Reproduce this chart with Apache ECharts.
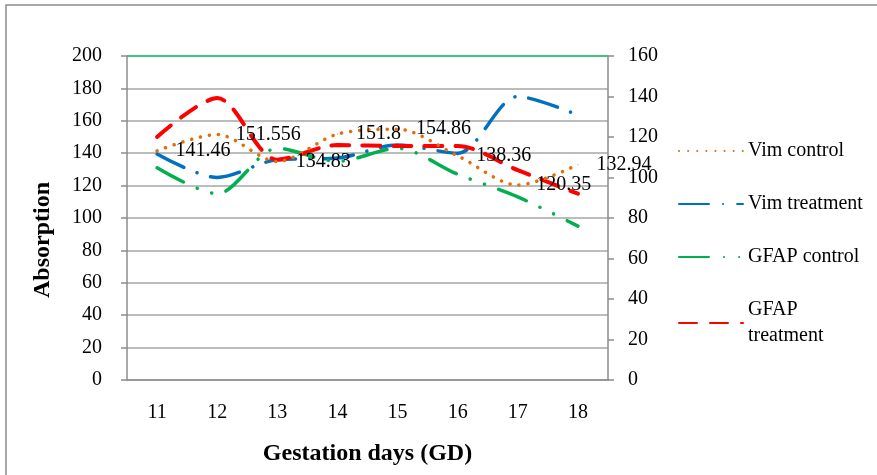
<!DOCTYPE html>
<html><head><meta charset="utf-8">
<script src="https://cdn.jsdelivr.net/npm/echarts@6/dist/echarts.min.js"></script>
<style>html,body{margin:0;padding:0;background:#fff}#c{width:877px;height:475px}</style>
</head><body><div id="c"></div>
<script>
const categories = ['11','12','13','14','15','16','17','18'];
const vimControl = [141.46, 151.556, 134.83, 151.8, 154.86, 138.36, 120.35, 132.94];
const vimTreatment = [139.5, 125, 136, 137, 145, 140, 175, 163.5];
const gfapControl = [131, 115, 143, 135, 143, 127, 113, 95];
const gfapTreatment = [150, 174, 136, 145, 144.5, 144.5, 129.5, 115];
const seriesNames = ['Vim control','Vim treatment','GFAP control','GFAP treatment'];

const serif = 'Liberation Serif, Times New Roman, serif';
const chart = echarts.init(document.getElementById('c'));
const gridColors = ['#a6a6a6','#a6a6a6','#a6a6a6','#a6a6a6','#a6a6a6','#a6a6a6','#a6a6a6','#a6a6a6','#a6a6a6','#a6a6a6','#00b050'];
function mk(name, data, color, dash, width, extra) {
  return Object.assign({
    name, type: 'line', data, smooth: 0.3, symbol: 'none', yAxisIndex: 0,
    lineStyle: { color, width, type: dash, cap: 'round' },
    itemStyle: { color }
  }, extra || {});
}
chart.setOption({
  animation: false,
  textStyle: { fontFamily: serif },
  graphic: [{ type: 'rect', shape: { x: 6, y: 5, width: 900, height: 500 }, style: { fill: 'none', stroke: '#8c8c8c', lineWidth: 1.5 } }],
  grid: { left: 127, right: 269, top: 56, bottom: 95 },
  legend: {
    orient: 'vertical', left: 673, top: 133, itemWidth: 64, itemHeight: 14, itemGap: 27,
    itemStyle: { opacity: 0 },
    textStyle: { fontFamily: serif, fontSize: 20, color: '#000', lineHeight: 26 },
    formatter: n => n === 'GFAP treatment' ? 'GFAP\ntreatment' : n,
    data: seriesNames
  },
  xAxis: {
    type: 'category', data: categories, boundaryGap: true,
    axisLine: { lineStyle: { color: '#8c8c8c', width: 1.5 } },
    axisTick: { show: false },
    axisLabel: { fontFamily: serif, fontSize: 20, color: '#000', margin: 23 },
    name: 'Gestation days (GD)', nameLocation: 'middle', nameGap: 62,
    nameTextStyle: { fontFamily: serif, fontSize: 24, fontWeight: 'bold', color: '#000' }
  },
  yAxis: [{
    type: 'value', min: 0, max: 200, interval: 20, position: 'left',
    axisLine: { show: true, lineStyle: { color: '#8c8c8c', width: 1.5 } },
    axisTick: { show: true, length: 6, lineStyle: { color: '#8c8c8c', width: 1.5 } },
    splitLine: { show: true, lineStyle: { color: gridColors, width: 1.5 } },
    axisLabel: { fontFamily: serif, fontSize: 20, color: '#000', margin: 25 },
    name: 'Absorption', nameLocation: 'middle', nameGap: 72, nameRotate: 90,
    nameTextStyle: { fontFamily: serif, fontSize: 24, fontWeight: 'bold', color: '#000', padding: [0, 44, 0, 0] }
  }, {
    type: 'value', min: 0, max: 160, interval: 20, position: 'right',
    axisLine: { show: true, lineStyle: { color: '#8c8c8c', width: 1.5 } },
    axisTick: { show: true, length: 6, lineStyle: { color: '#8c8c8c', width: 1.5 } },
    splitLine: { show: false },
    axisLabel: { fontFamily: serif, fontSize: 20, color: '#000', margin: 20 }
  }],
  series: [
    mk(seriesNames[0], vimControl, '#e46c0a', [0.1, 9], 3.5, {
      z: 5, symbol: 'circle', symbolSize: 1, showSymbol: true,
      itemStyle: { color: '#e46c0a' },
      label: { show: true, position: 'right', distance: 18, fontFamily: serif, fontSize: 20, color: '#000', opacity: 1 }
    }),
    mk(seriesNames[1], vimTreatment, '#0070c0', [30, 14, 0.1, 14], 3.5),
    mk(seriesNames[2], gfapControl, '#00b050', [30, 15, 0.1, 15, 0.1, 15], 3.5),
    mk(seriesNames[3], gfapTreatment, '#ff0000', [18, 13], 4)
  ]
});
</script></body></html>
